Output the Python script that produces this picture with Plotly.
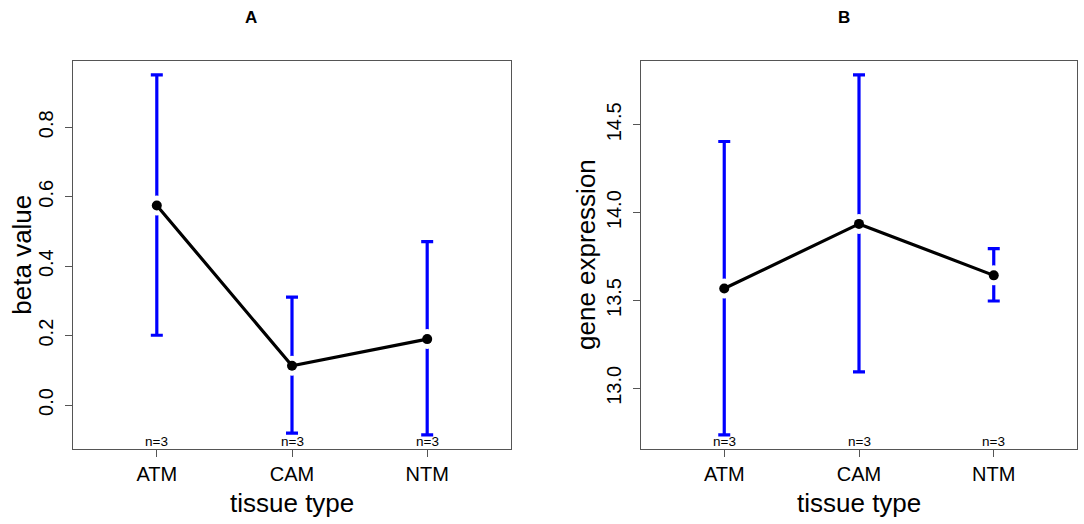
import plotly.graph_objects as go

# tissue types and per-group sample counts
tissues = ['ATM', 'CAM', 'NTM']
counts = [3, 3, 3]

# panel A: methylation beta value (mean with CI)
beta_mean = [0.575, 0.113, 0.190]
beta_upper = [0.951, 0.311, 0.471]
beta_lower = [0.201, -0.081, -0.086]

# panel B: gene expression (mean with CI)
expr_mean = [13.568, 13.936, 13.643]
expr_upper = [14.405, 14.784, 13.795]
expr_lower = [12.735, 13.094, 13.497]

FONT = 'Liberation Sans, Arial, sans-serif'
W, H = 1084, 524


def add_panel(fig, mean, upper, lower, xa, ya):
    plus = [u - m for u, m in zip(upper, mean)]
    minus = [m - l for m, l in zip(mean, lower)]
    # error bars
    fig.add_trace(go.Scatter(
        x=tissues, y=mean, mode='markers', xaxis=xa, yaxis=ya,
        marker=dict(size=1, color='rgba(0,0,0,0)'),
        error_y=dict(type='data', array=plus, arrayminus=minus,
                     color='#0000ff', thickness=3.2, width=6),
        showlegend=False, hoverinfo='skip'))
    # white halo gives the gap around each mean, like plotCI
    fig.add_trace(go.Scatter(
        x=tissues, y=mean, mode='markers', xaxis=xa, yaxis=ya,
        marker=dict(size=20, color='white'),
        showlegend=False, hoverinfo='skip'))
    fig.add_trace(go.Scatter(
        x=tissues, y=mean, mode='lines+markers', xaxis=xa, yaxis=ya,
        line=dict(color='black', width=3.2),
        marker=dict(size=10, color='black'),
        showlegend=False))


fig = go.Figure()
add_panel(fig, beta_mean, beta_upper, beta_lower, 'x', 'y')
add_panel(fig, expr_mean, expr_upper, expr_lower, 'x2', 'y2')


def pad(lo, hi):
    d = (hi - lo) * 0.04
    return [lo - d, hi + d]


axis_common = dict(showline=True, mirror=True, linecolor='#555555', linewidth=1.3,
                   ticks='outside', ticklen=7, tickcolor='#555555', tickwidth=1.3,
                   showgrid=False, zeroline=False,
                   tickfont=dict(family=FONT, size=20, color='black'))

ydom = [(H - 449.3) / H, (H - 60.5) / H]

fig.update_layout(
    width=W, height=H,
    margin=dict(l=0, r=0, t=0, b=0),
    paper_bgcolor='white', plot_bgcolor='white',
    font=dict(family=FONT, color='black'),
    xaxis=dict(domain=[73 / W, 511 / W], range=[-0.62, 2.62], **axis_common),
    yaxis=dict(domain=ydom, range=pad(min(beta_lower), max(beta_upper)),
               tickvals=[0.0, 0.2, 0.4, 0.6, 0.8], ticktext=['0.0', '0.2', '0.4', '0.6', '0.8'],
               tickangle=-90, ticklabelstandoff=4, **axis_common),
    xaxis2=dict(domain=[640.7 / W, 1077.3 / W], range=[-0.62, 2.62], anchor='y2', **axis_common),
    yaxis2=dict(domain=ydom, range=pad(min(expr_lower), max(expr_upper)), anchor='x2',
                tickvals=[13.0, 13.5, 14.0, 14.5], ticktext=['13.0', '13.5', '14.0', '14.5'],
                tickangle=-90, ticklabelstandoff=4, **axis_common),
)

ann = []
# n= labels along the bottom of each panel
for xr, yr in [('x', 'y domain'), ('x2', 'y2 domain')]:
    for t, n in zip(tissues, counts):
        ann.append(dict(x=t, y=0, xref=xr, yref=yr, yanchor='bottom', showarrow=False,
                        text='n=%d' % n, font=dict(family=FONT, size=13.5, color='black'),
                        borderpad=0, yshift=-1))

# axis titles and panel letters
for txt, x, y, ang, size, bold in [
    ('tissue type', 292 / W, (H - 503) / H, 0, 26, False),
    ('tissue type', 859 / W, (H - 503) / H, 0, 26, False),
    ('beta value', 21.7 / W, (H - 255) / H, -90, 26, False),
    ('gene expression', 586 / W, (H - 255) / H, -90, 26, False),
    ('A', 250.7 / W, (H - 17.3) / H, 0, 17, True),
    ('B', 844 / W, (H - 17.3) / H, 0, 17, True),
]:
    ann.append(dict(x=x, y=y, xref='paper', yref='paper', xanchor='center', yanchor='middle',
                    showarrow=False, textangle=ang,
                    text='<b>%s</b>' % txt if bold else txt,
                    font=dict(family=FONT, size=size, color='black')))

fig.update_layout(annotations=ann)

# drop the browser's default 8px body margin so the figure sits at (0, 0)
fig.write_html("out.html", config={'displayModeBar': False},
               post_script="document.body.style.margin='0px';")
